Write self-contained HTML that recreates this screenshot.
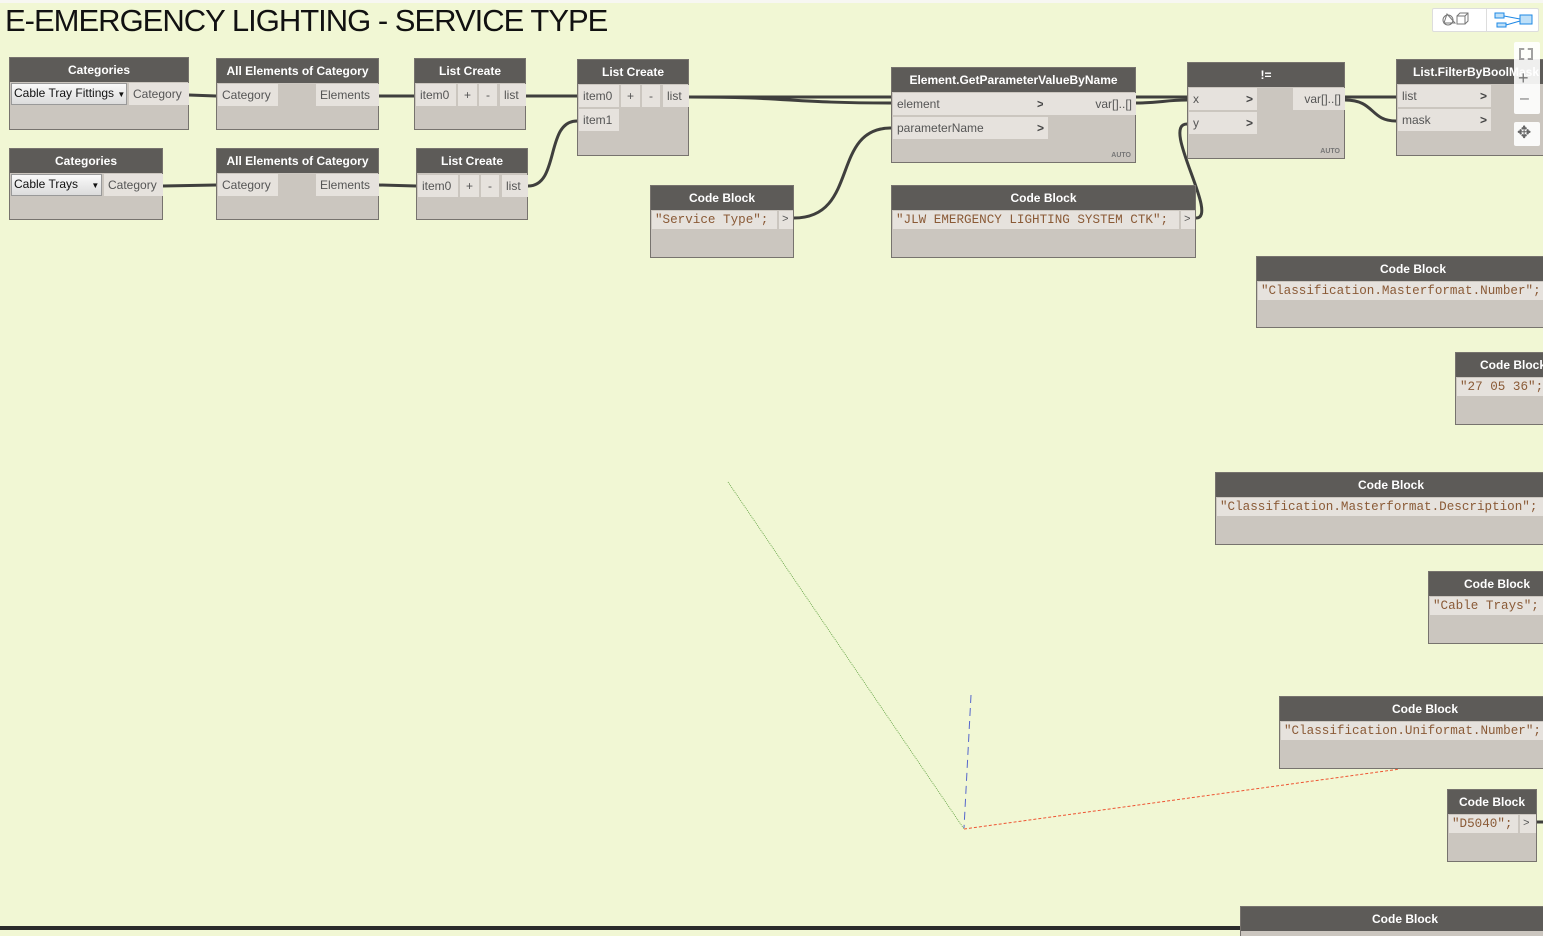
<!DOCTYPE html>
<html><head><meta charset="utf-8"><style>
*{box-sizing:border-box;margin:0;padding:0}
body{width:1543px;height:930px;overflow:hidden;background:#f1f7d4;position:relative;font-family:"Liberation Sans",sans-serif}
.n{position:absolute;background:#cbc6bf;border:1px solid #77736e}
.h{position:absolute;left:0;right:0;top:0;height:24px;background:#5d5b58;color:#fff;font-weight:bold;font-size:12px;text-align:center;line-height:24px;white-space:nowrap;overflow:hidden}
.p{position:absolute;background:#e6e2dd;font-size:12px;color:#555;line-height:22px;height:22px;padding-left:4px;white-space:nowrap;overflow:hidden}
.c{position:absolute;background:#e6e2dd;font-family:"Liberation Mono",monospace;font-size:12.6px;color:#8a5a36;line-height:18px;height:18px;padding-left:3px;white-space:nowrap;overflow:hidden}
.auto{position:absolute;right:4px;bottom:3px;font-size:7px;font-weight:bold;color:#777}
.dd{position:absolute;background:linear-gradient(#fafafa,#dcdcdc);border:1px solid #999;font-size:12px;color:#111;line-height:19px;padding-left:2px;white-space:nowrap}
.ar{position:absolute;right:4px;top:0;font-weight:bold;color:#444}
</style></head><body>
<div style="position:absolute;left:0;top:0;width:1543px;height:3px;background:#f7f7f2"></div>
<div style="position:absolute;left:0;top:926px;width:1543px;height:4px;background:#2b2b2b"></div>
<div style="position:absolute;left:5px;top:3px;font-size:31px;color:#111;white-space:nowrap;letter-spacing:-1px">E-EMERGENCY LIGHTING - SERVICE TYPE</div>

<svg width="1543" height="930" style="position:absolute;left:0;top:0">
<g fill="none" stroke="#3f3f3d" stroke-width="3">
<path d="M189 95 L216 96"/>
<path d="M163 186 L216 185"/>
<path d="M379 96 L414 96"/>
<path d="M379 185 L416 186"/>
<path d="M526 96 L577 96"/>
<path d="M528 186 C560 186,545 121,577 121"/>
<path d="M689 97 C800 97,800 97,891 97 L1187 97"/>
<path d="M689 97 C790 97,790 103,891 103"/>
<path d="M794 218 C860 218,830 128,891 128"/>
<path d="M1136 103 C1160 103,1165 100,1187 100"/>
<path d="M1196 218 C1220 218,1160 124,1187 124"/>
<path d="M1345 97 L1396 97"/>
<path d="M1345 100 C1375 100,1370 121,1396 121"/>
<path d="M1537 822 L1543 822"/>
</g>
<line x1="728" y1="482" x2="964" y2="829" stroke="#5a9e3a" stroke-width="0.8" stroke-dasharray="1 1"/>
<line x1="971" y1="695" x2="964" y2="828" stroke="#5566cc" stroke-width="1" stroke-dasharray="8 5"/>
<line x1="964" y1="829" x2="1400" y2="769" stroke="#ee5533" stroke-width="1" stroke-dasharray="3 2"/>
</svg>

<div class="n" style="left:9px;top:57px;width:180px;height:73px"><div class="h">Categories</div>
<div class="dd" style="left:1px;top:25px;width:116px;height:22px">Cable Tray Fittings <span style="font-size:8px">▼</span></div>
<div class="p" style="left:119px;top:25px;width:60px">Category</div></div>
<div class="n" style="left:216px;top:58px;width:163px;height:72px"><div class="h">All Elements of Category</div>
<div class="p" style="left:1px;top:25px;width:60px">Category</div>
<div class="p" style="left:99px;top:25px;width:63px">Elements</div></div>
<div class="n" style="left:414px;top:58px;width:112px;height:72px"><div class="h">List Create</div>
<div class="p" style="left:1px;top:25px;width:40px">item0</div>
<div class="p" style="left:43px;top:25px;width:19px;padding:0;text-align:center">+</div>
<div class="p" style="left:64px;top:25px;width:18px;padding:0;text-align:center">-</div>
<div class="p" style="left:85px;top:25px;width:26px">list</div></div>
<div class="n" style="left:577px;top:59px;width:112px;height:97px"><div class="h">List Create</div>
<div class="p" style="left:1px;top:25px;width:40px">item0</div>
<div class="p" style="left:1px;top:49px;width:40px">item1</div>
<div class="p" style="left:43px;top:25px;width:19px;padding:0;text-align:center">+</div>
<div class="p" style="left:64px;top:25px;width:18px;padding:0;text-align:center">-</div>
<div class="p" style="left:85px;top:25px;width:26px">list</div></div>
<div class="n" style="left:9px;top:148px;width:154px;height:72px"><div class="h">Categories</div>
<div class="dd" style="left:1px;top:25px;width:91px;height:22px">Cable Trays &nbsp;&nbsp;&nbsp;<span style="font-size:8px">▼</span></div>
<div class="p" style="left:94px;top:25px;width:59px">Category</div></div>
<div class="n" style="left:216px;top:148px;width:163px;height:72px"><div class="h">All Elements of Category</div>
<div class="p" style="left:1px;top:25px;width:60px">Category</div>
<div class="p" style="left:99px;top:25px;width:63px">Elements</div></div>
<div class="n" style="left:416px;top:148px;width:112px;height:72px"><div class="h">List Create</div>
<div class="p" style="left:1px;top:26px;width:40px">item0</div>
<div class="p" style="left:43px;top:26px;width:19px;padding:0;text-align:center">+</div>
<div class="p" style="left:64px;top:26px;width:18px;padding:0;text-align:center">-</div>
<div class="p" style="left:85px;top:26px;width:26px">list</div></div>
<div class="n" style="left:891px;top:67px;width:245px;height:96px"><div class="h">Element.GetParameterValueByName</div>
<div class="p" style="left:1px;top:25px;width:155px">element<span class="ar">&gt;</span></div>
<div class="p" style="left:1px;top:49px;width:155px">parameterName<span class="ar">&gt;</span></div>
<div class="p" style="left:151px;top:25px;width:93px;text-align:right;padding-right:4px">var[]..[]</div>
<div class="auto">AUTO</div></div>
<div class="n" style="left:1187px;top:62px;width:158px;height:97px"><div class="h">!=</div>
<div class="p" style="left:1px;top:25px;width:68px">x<span class="ar">&gt;</span></div>
<div class="p" style="left:1px;top:49px;width:68px">y<span class="ar">&gt;</span></div>
<div class="p" style="left:105px;top:25px;width:52px;text-align:right;padding-right:4px">var[]..[]</div>
<div class="auto">AUTO</div></div>
<div class="n" style="left:1396px;top:59px;width:160px;height:97px"><div class="h" style="text-align:left;padding-left:16px">List.FilterByBoolMask</div>
<div class="p" style="left:1px;top:25px;width:93px">list<span class="ar">&gt;</span></div>
<div class="p" style="left:1px;top:49px;width:93px">mask<span class="ar">&gt;</span></div></div>

<div class="n" style="left:650px;top:185px;width:144px;height:73px"><div class="h">Code Block</div>
<div class="c" style="left:1px;top:25px;width:125px">"Service Type";</div>
<div class="c" style="left:128px;top:25px;width:14px;color:#555;font-size:11px">&gt;</div></div>
<div class="n" style="left:891px;top:185px;width:305px;height:73px"><div class="h">Code Block</div>
<div class="c" style="left:1px;top:25px;width:286px">"JLW EMERGENCY LIGHTING SYSTEM CTK";</div>
<div class="c" style="left:289px;top:25px;width:14px;color:#555;font-size:11px">&gt;</div></div>
<div class="n" style="left:1256px;top:256px;width:300px;height:72px"><div class="h" style="width:312px">Code Block</div>
<div class="c" style="left:1px;top:25px;width:298px">"Classification.Masterformat.Number";</div></div>
<div class="n" style="left:1455px;top:352px;width:100px;height:73px"><div class="h" style="text-align:left;padding-left:24px">Code Block</div>
<div class="c" style="left:1px;top:25px;width:99px">"27 05 36";</div></div>
<div class="n" style="left:1215px;top:472px;width:340px;height:73px"><div class="h" style="width:350px;text-align:left;padding-left:142px">Code Block</div>
<div class="c" style="left:1px;top:25px;width:339px">"Classification.Masterformat.Description";</div></div>
<div class="n" style="left:1428px;top:571px;width:130px;height:73px"><div class="h" style="text-align:left;padding-left:35px">Code Block</div>
<div class="c" style="left:1px;top:25px;width:129px">"Cable Trays";</div></div>
<div class="n" style="left:1279px;top:696px;width:280px;height:73px"><div class="h" style="text-align:left;padding-left:112px">Code Block</div>
<div class="c" style="left:1px;top:25px;width:279px">"Classification.Uniformat.Number";</div></div>
<div class="n" style="left:1447px;top:789px;width:90px;height:73px"><div class="h">Code Block</div>
<div class="c" style="left:1px;top:25px;width:69px">"D5040";</div>
<div class="c" style="left:72px;top:25px;width:16px;color:#555;font-size:11px">&gt;</div></div>
<div class="n" style="left:1240px;top:906px;width:310px;height:30px;border-bottom:none"><div class="h" style="text-align:left;padding-left:131px">Code Block</div></div>

<div style="position:absolute;left:1432px;top:8px;width:107px;height:24px;background:#fff;border:1px solid #ddd;border-radius:2px"></div>
<div style="position:absolute;left:1486px;top:8px;width:1px;height:24px;background:#ddd"></div>
<svg width="110" height="30" style="position:absolute;left:1432px;top:6px">
<circle cx="16" cy="14" r="5" fill="none" stroke="#777"/><path d="M15 8 L23 17 L12 17 Z" fill="none" stroke="#777"/>
<rect x="25" y="10" width="8" height="8" fill="none" stroke="#777"/><path d="M25 10 L28 7 L36 7 L36 15 L33 18 M33 10 L36 7" fill="none" stroke="#777"/>
<rect x="63" y="7" width="9" height="5" fill="#bfe0f8" stroke="#1e88e5"/><rect x="65" y="17" width="9" height="4" fill="#bfe0f8" stroke="#1e88e5"/>
<rect x="88" y="9" width="12" height="9" fill="#bfe0f8" stroke="#1e88e5"/><path d="M72 10 L88 13 M74 19 L88 15" stroke="#1e88e5"/>
</svg>
<div style="position:absolute;left:1514px;top:42px;width:26px;height:72px;background:rgba(255,255,255,0.9);border-radius:2px"></div>
<div style="position:absolute;left:1514px;top:122px;width:26px;height:24px;background:rgba(255,255,255,0.9);border-radius:2px"></div>
<div style="position:absolute;left:1519px;top:48px;width:14px;height:12px;border:2px dashed #666;opacity:.6"></div>
<div style="position:absolute;left:1518px;top:68px;font-size:18px;color:#777">+</div>
<div style="position:absolute;left:1520px;top:90px;font-size:16px;color:#777">–</div>
<div style="position:absolute;left:1517px;top:123px;font-size:17px;color:#666">✥</div>
</body></html>
